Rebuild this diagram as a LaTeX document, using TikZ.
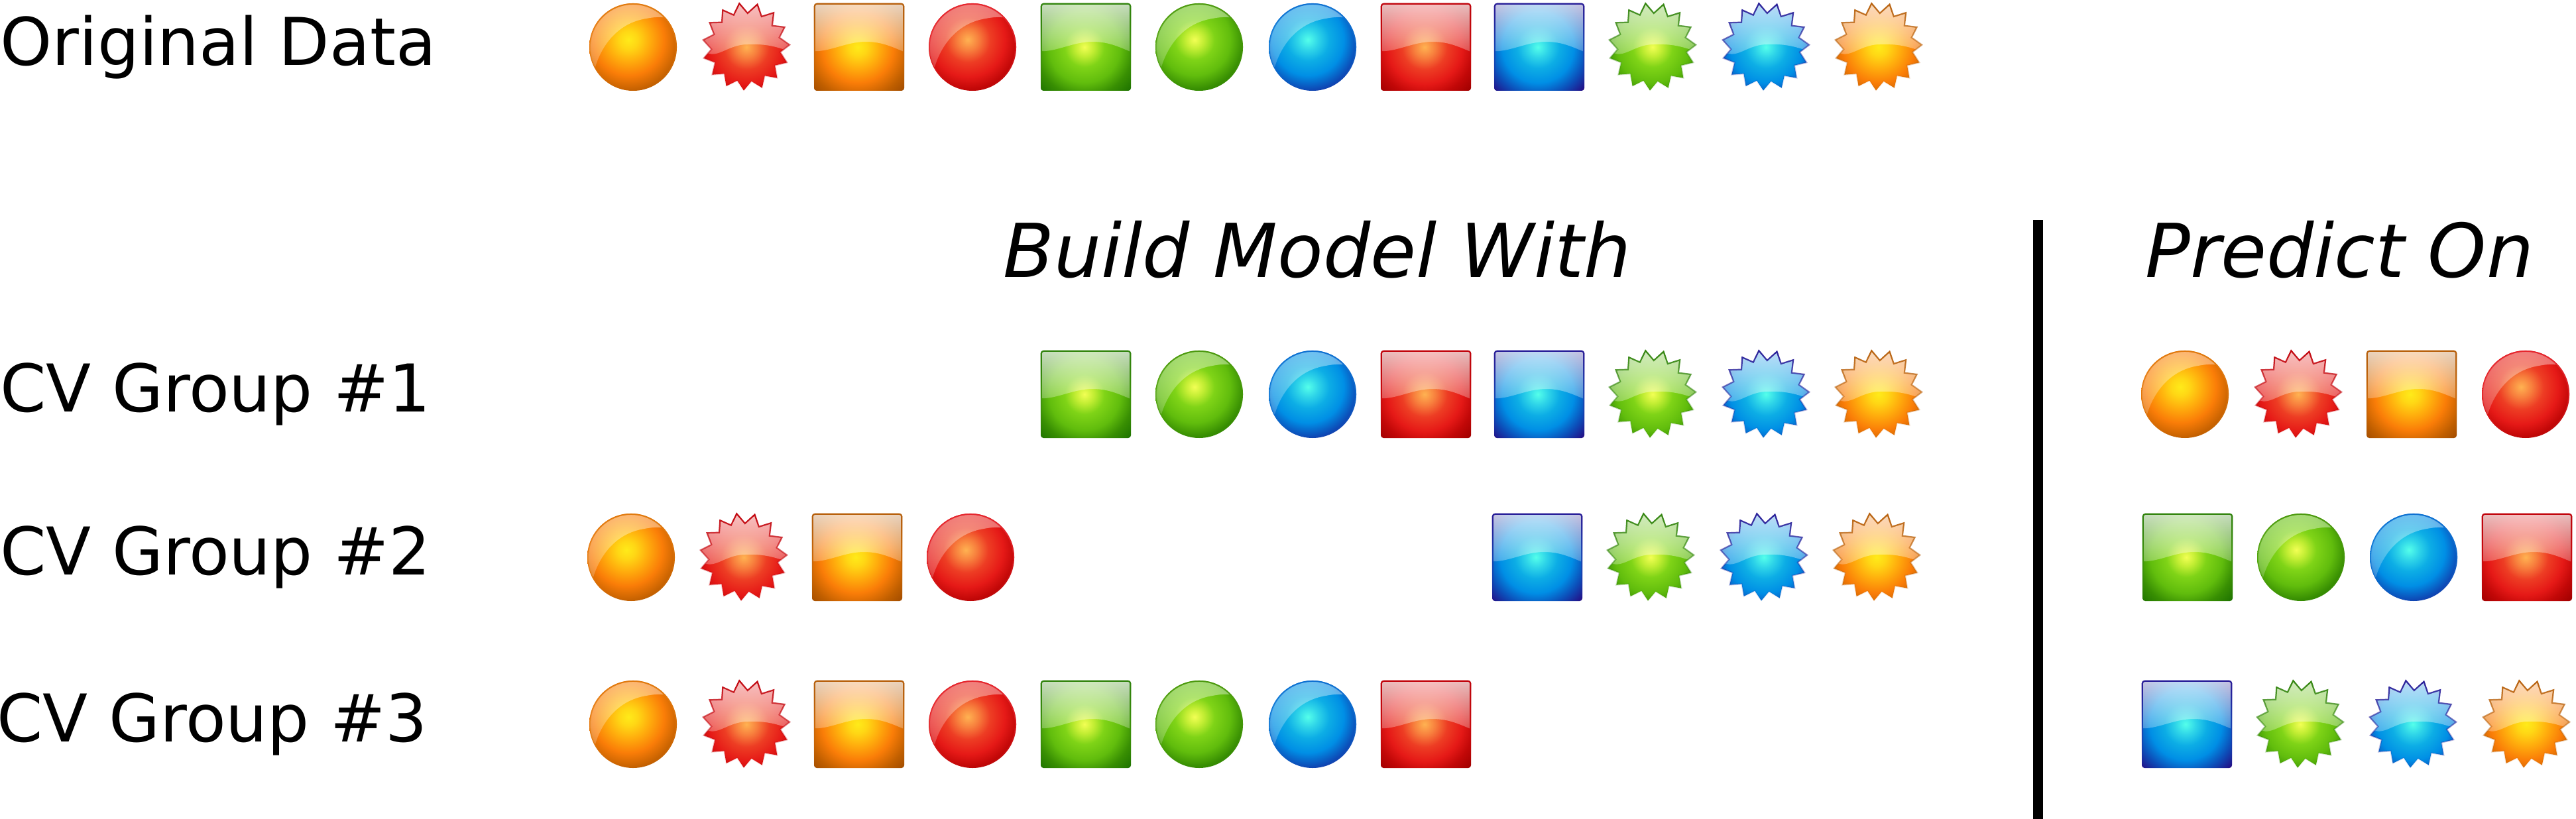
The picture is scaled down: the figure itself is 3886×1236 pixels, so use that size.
\documentclass[tikz,border=0pt]{standalone}
\usepackage{fontspec}
\setmainfont{DejaVu Sans}
\usetikzlibrary{fadings}
\pgfdeclareradialshading{glowO}{\pgfpointorigin}{rgb(0bp)=(1,.92,.10);rgb(3.5bp)=(1,.84,.08);rgb(8bp)=(1,.68,.05);rgb(13.5bp)=(.98,.49,.03);rgb(19.5bp)=(.75,.37,0);rgb(25bp)=(.60,.28,0);rgb(50bp)=(.60,.28,0)}
\pgfdeclareradialshading{glowR}{\pgfpointorigin}{rgb(0bp)=(1,.70,.32);rgb(4bp)=(.97,.50,.24);rgb(8.5bp)=(.93,.24,.14);rgb(14bp)=(.90,.10,.09);rgb(18.5bp)=(.76,.03,.03);rgb(23.5bp)=(.63,0,0);rgb(50bp)=(.63,0,0)}
\pgfdeclareradialshading{glowG}{\pgfpointorigin}{rgb(0bp)=(.95,1,.33);rgb(3.5bp)=(.76,.93,.20);rgb(7.5bp)=(.50,.83,.09);rgb(13.5bp)=(.38,.74,.05);rgb(18.5bp)=(.22,.56,.01);rgb(24.5bp)=(.10,.43,0);rgb(50bp)=(.10,.43,0)}
\pgfdeclareradialshading{glowB}{\pgfpointorigin}{rgb(0bp)=(.33,1,.92);rgb(4bp)=(.18,.83,.91);rgb(8bp)=(.05,.68,.90);rgb(13.5bp)=(0,.56,.90);rgb(18.5bp)=(.05,.30,.72);rgb(24.5bp)=(.16,.0,.48);rgb(50bp)=(.16,0,.48)}
\definecolor{rimO}{rgb}{.72,.38,.05}
\definecolor{rimR}{rgb}{.76,.02,.05}
\definecolor{rimG}{rgb}{.20,.52,.06}
\definecolor{rimB}{rgb}{.16,.12,.60}
\definecolor{ballrimO}{rgb}{.88,.48,.06}
\definecolor{ballrimR}{rgb}{.90,.15,.18}
\definecolor{ballrimG}{rgb}{.30,.60,.06}
\definecolor{ballrimB}{rgb}{.06,.44,.82}
\tikzfading[name=glossball, top color=transparent!55, bottom color=transparent!80]
\tikzfading[name=glosssq, top color=transparent!22, middle color=transparent!50, bottom color=transparent!74]
\tikzfading[name=rimfade, top color=transparent!0, middle color=transparent!50, bottom color=transparent!100]
\newcommand{\starpath}{(-10.7,-65.7)--(1.8,-51)--(16.5,-64.3)--(22.8,-46)--(41.1,-51.7)--(38.8,-32.3)--(57.6,-30)--(49.6,-14.3)--(65.2,-3.3)--(50.9,7.7)--(61.2,23.3)--(42.9,27.7)--(46.4,46.7)--(27.7,43.3)--(23.7,61.7)--(7.6,51.7)--(-4,65.7)--(-13.8,50.7)--(-30.4,59)--(-33.5,40.3)--(-51.8,41.7)--(-47.3,23.3)--(-64.3,16.7)--(-52.7,3.3)--(-65.2,-10.7)--(-48.7,-19)--(-55.4,-36.7)--(-37,-37.3)--(-35.7,-55.7)--(-19.2,-48.3)--cycle}
\newcommand{\gball}[3]{\begin{scope}[shift={(#1,#2)}]
 \begin{scope}\clip (0,0) circle (66);\shade[shading=glow#3] (-7,-11) circle (100);\end{scope}
 \begin{scope}\clip (0,0) circle (65);
 \fill[white,path fading=glossball] (-57,30) .. controls (-48,0) and (-25,-36) .. (20,-43) .. controls (30,-45) and (40,-46) .. (52,-44) -- (70,-44) -- (70,-70) -- (-70,-70) -- (-70,30) -- cycle;\end{scope}
 \draw[ballrim#3,line width=1pt,path fading=rimfade] (0,0) circle (65);
\end{scope}}
\newcommand{\gsquare}[3]{\begin{scope}[shift={(#1,#2)}]
 \begin{scope}\clip[rounded corners=2pt] (-68,-66) rectangle (68,66);\shade[shading=glow#3] (-2,0) circle (100);\end{scope}
 \begin{scope}\clip (-66,-64) rectangle (66,64);
 \fill[white,path fading=glosssq] (-70,6) .. controls (-45,8) and (-20,-8) .. (10,-8) .. controls (35,-8) and (50,0) .. (70,8) -- (70,-70) -- (-70,-70) -- cycle;\end{scope}
 \draw[rim#3,line width=1.1pt,rounded corners=2pt,path fading=rimfade] (-67.3,-65.3) rectangle (67.3,65.3);
\end{scope}}
\newcommand{\gstar}[3]{\begin{scope}[shift={(#1,#2)}]
 \begin{scope}\clip \starpath;\shade[shading=glow#3] (0,0) circle (100);
 \fill[white,path fading=glosssq] (-70,10) -- (-56,10) .. controls (-40,14) and (-25,-4) .. (2,-4) .. controls (25,-5) and (45,-2) .. (70,9) -- (70,-70) -- (-70,-70) -- cycle;\end{scope}
 \draw[rim#3,line width=1.1pt,line join=miter,path fading=rimfade] \starpath;
\end{scope}}
\tikzset{lbl/.style={anchor=base west,inner sep=0pt,font=\fontsize{49.7}{59}\selectfont},
hdr/.style={anchor=base west,inner sep=0pt,font=\fontsize{56.1}{68}\selectfont\itshape},
divider/.style={line width=7.5pt,black}}
\begin{document}
\begin{tikzpicture}[x=.5pt,y=-.5pt]
\useasboundingbox (0,0) rectangle (3886,1236);
\fill[white] (0,0) rectangle (3886,1236);
\node[lbl] (orig) at (0,99) {Original Data};
\node[lbl] (cvone) at (0,621) {CV Group \#1};
\node[lbl] (cvtwo) at (0,867) {CV Group \#2};
\node[lbl] (cvthree) at (-5,1119) {CV Group \#3};
\node[hdr] (build) at (1513,418) {Build Model With};
\node[hdr] (predict) at (3236,418) {Predict On};
\coordinate (divtop) at (3074.5,332);
\coordinate (divbot) at (3074.5,1236);
\draw[divider] (divtop) -- (divbot);
% original data
\gball{955}{71}{O}\gstar{1126}{71}{R}\gsquare{1296}{71}{O}\gball{1467}{71}{R}
\gsquare{1638}{71}{G}\gball{1809}{71}{G}\gball{1980}{71}{B}\gsquare{2151}{71}{R}
\gsquare{2322}{71}{B}\gstar{2493}{71}{G}\gstar{2664}{71}{B}\gstar{2834}{71}{O}
% group 1
\gsquare{1638}{595}{G}\gball{1809}{595}{G}\gball{1980}{595}{B}\gsquare{2151}{595}{R}
\gsquare{2322}{595}{B}\gstar{2493}{595}{G}\gstar{2664}{595}{B}\gstar{2834}{595}{O}
\gball{3296}{595}{O}\gstar{3467}{595}{R}\gsquare{3638}{595}{O}\gball{3810}{595}{R}
% group 2
\gball{952}{841}{O}\gstar{1122}{841}{R}\gsquare{1293}{841}{O}\gball{1464}{841}{R}
\gsquare{2319}{841}{B}\gstar{2490}{841}{G}\gstar{2661}{841}{B}\gstar{2831}{841}{O}
\gsquare{3300}{841}{G}\gball{3471}{841}{G}\gball{3641}{841}{B}\gsquare{3812}{841}{R}
% group 3
\gball{955}{1093}{O}\gstar{1126}{1093}{R}\gsquare{1296}{1093}{O}\gball{1467}{1093}{R}
\gsquare{1638}{1093}{G}\gball{1809}{1093}{G}\gball{1980}{1093}{B}\gsquare{2151}{1093}{R}
\gsquare{3299}{1093}{B}\gstar{3470}{1093}{G}\gstar{3640}{1093}{B}\gstar{3811}{1093}{O}
\end{tikzpicture}
\end{document}
